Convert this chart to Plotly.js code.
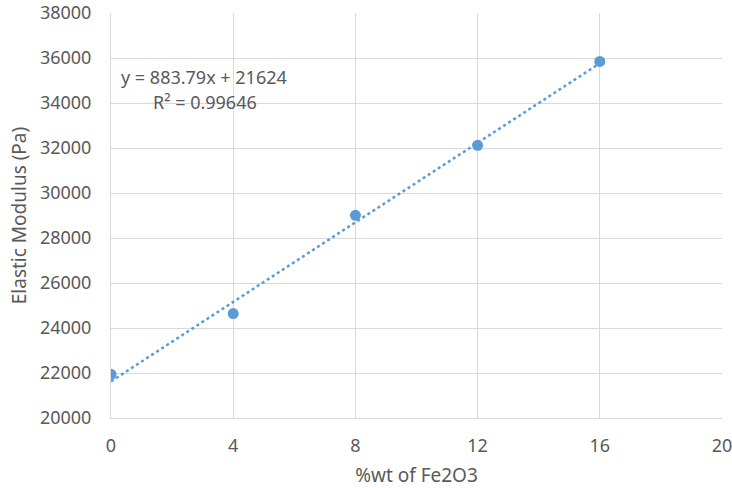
<!DOCTYPE html>
<html>
<head>
<meta charset="utf-8">
<script src="https://cdn.plot.ly/plotly-3.0.1.min.js"></script>
<style>html,body{margin:0;padding:0;background:#fff;}#chart{width:732px;height:488px;}</style>
</head>
<body>
<div id="chart"></div>
<script>
var wtFe2O3 = [0, 4, 8, 12, 16];
var modulusPa = [21940, 24640, 29010, 32120, 35850];
var trendX = [0, 16];
var trendY = [21624, 35764.64];
var xTicks = [0, 4, 8, 12, 16, 20];
var yTicks = [20000, 22000, 24000, 26000, 28000, 30000, 32000, 34000, 36000, 38000];
var eqText = "y = 883.79x + 21624";
var r2Text = "R² = 0.99646";

var fontFam = "Noto Sans, Liberation Sans, Arial, sans-serif";
var txtCol = "#595959";
var blue = "#5b9bd5";

var traces = [
  {x: trendX, y: trendY, mode: "lines", type: "scatter",
   line: {color: blue, width: 2.5, dash: "dot"}, hoverinfo: "skip"},
  {x: wtFe2O3, y: modulusPa, mode: "markers", type: "scatter",
   marker: {color: blue, size: 11}}
];

var layout = {
  width: 732, height: 488,
  margin: {l: 111, r: 10, t: 13, b: 70},
  paper_bgcolor: "#fff", plot_bgcolor: "#fff",
  showlegend: false,
  font: {family: fontFam, size: 18, color: txtCol},
  xaxis: {
    range: [0, 20], tickvals: xTicks, ticktext: xTicks.map(String),
    showgrid: true, gridcolor: "#d9d9d9", gridwidth: 1,
    zeroline: false, showline: true, linecolor: "#d9d9d9", linewidth: 1, mirror: false,
    ticks: "outside", ticklen: 11, tickcolor: "rgba(0,0,0,0)",
    ticklabeloverflow: "allow",
    tickfont: {family: fontFam, size: 18, color: txtCol},
    title: {text: "%wt of Fe2O3", font: {family: fontFam, size: 19, color: txtCol}, standoff: 14}
  },
  yaxis: {
    range: [20000, 38000], tickvals: yTicks, ticktext: yTicks.map(String),
    showgrid: true, gridcolor: "#d9d9d9", gridwidth: 1,
    zeroline: false, showline: true, linecolor: "#d9d9d9", linewidth: 1,
    ticks: "outside", ticklen: 15, tickcolor: "rgba(0,0,0,0)",
    ticklabeloverflow: "allow",
    tickfont: {family: fontFam, size: 18, color: txtCol},
    title: {text: "Elastic Modulus (Pa)", font: {family: fontFam, size: 19, color: txtCol}, standoff: 8}
  },
  annotations: [
    {xref: "paper", yref: "paper", x: (119 - 111) / 611, y: (418 - 77) / 405,
     xanchor: "left", yanchor: "middle", text: eqText, showarrow: false,
     font: {family: fontFam, size: 18, color: txtCol}},
    {xref: "paper", yref: "paper", x: (151 - 111) / 611, y: (418 - 102) / 405,
     xanchor: "left", yanchor: "middle", text: r2Text, showarrow: false,
     font: {family: fontFam, size: 18, color: txtCol}}
  ]
};

Plotly.newPlot("chart", traces, layout, {displayModeBar: false, staticPlot: true});
</script>
</body>
</html>
